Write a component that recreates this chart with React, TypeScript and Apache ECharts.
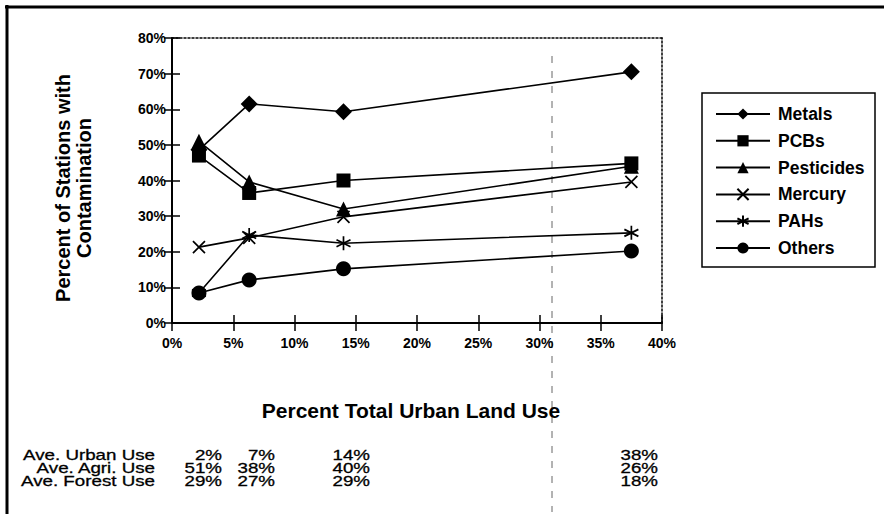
import React, { useEffect, useRef } from "react";
import * as echarts from "echarts";

const xUrban = [2.2, 6.3, 14.0, 37.5];
const metals = [48.6, 61.5, 59.3, 70.5];
const pcbs = [47.0, 36.5, 40.0, 44.8];
const pesticides = [51.0, 39.6, 32.0, 44.0];
const mercury = [21.3, 23.9, 29.8, 39.6];
const pahs = [8.4, 24.7, 22.4, 25.3];
const others = [8.4, 12.1, 15.2, 20.2];

const seriesNames = ["Metals", "PCBs", "Pesticides", "Mercury", "PAHs", "Others"];

const tableRowLabels = ["Ave. Urban Use", "Ave. Agri. Use", "Ave. Forest Use"];
const tableUrban = ["2%", "7%", "14%", "38%"];
const tableAgri = ["51%", "38%", "40%", "26%"];
const tableForest = ["29%", "27%", "29%", "18%"];

const FONT = "'Liberation Sans', Arial, Helvetica, sans-serif";

const X_PATH = "path://M0,0L10,10M10,0L0,10";
const STAR_PATH = "path://M5,0L5,10M0.7,2.5L9.3,7.5M0.7,7.5L9.3,2.5";

function pairs(vals: number[]) {
  return vals.map((v, i) => [xUrban[i], v]);
}

export default function App() {
  const ref = useRef<HTMLDivElement>(null);

  useEffect(() => {
    if (!ref.current) return;
    const chart = echarts.init(ref.current, undefined, { renderer: "svg" });

    const symbols = ["diamond", "rect", "triangle", X_PATH, STAR_PATH, "circle"];
    const sizes = [17, 14, 15, 12, 14, 15];
    const datas = [metals, pcbs, pesticides, mercury, pahs, others];

    const series = seriesNames.map((name, i) => {
      const stroked = i === 3 || i === 4;
      return {
        name,
        type: "line",
        xAxisIndex: 0,
        yAxisIndex: 0,
        data: pairs(datas[i]),
        symbol: symbols[i],
        symbolSize: sizes[i],
        showAllSymbol: true,
        lineStyle: { color: "#000", width: 1.6 },
        itemStyle: stroked
          ? { color: "#000", borderColor: "#000", borderWidth: 1.7 }
          : { color: "#000", borderWidth: 0 },
        z: 10 - i,
      };
    });

    const colRight = [222, 275, 370, 658];
    const rowY = [455, 468, 481];
    const tableRows = [tableUrban, tableAgri, tableForest];
    const tableGraphics: any[] = [];
    const tStyle = (text: string) => ({
      text,
      align: "right",
      verticalAlign: "middle",
      font: `15px ${FONT}`,
      lineHeight: 12,
      fill: "#000",
      stroke: "#000",
      lineWidth: 0.3,
    });
    tableRowLabels.forEach((lab, r) => {
      tableGraphics.push({
        type: "text",
        x: 155,
        y: rowY[r],
        scaleX: 1.25,
        style: tStyle(lab),
      });
      tableRows[r].forEach((val, c) => {
        tableGraphics.push({
          type: "text",
          x: colRight[c],
          y: rowY[r],
          scaleX: 1.25,
          style: tStyle(val),
        });
      });
    });

    const xBase = { min: 0, max: 40, interval: 5, type: "value" as const };
    const yBase = { min: 0, max: 80, interval: 10, type: "value" as const };

    chart.setOption({
      animation: false,
      backgroundColor: "#fff",
      grid: { left: 172, top: 38, right: 222, bottom: 191, show: false },
      xAxis: [
        {
          ...xBase,
          position: "bottom",
          axisLine: { show: true, onZero: false, lineStyle: { color: "#000", width: 2 } },
          axisTick: { show: true, length: 8, lineStyle: { color: "#000", width: 1.5 } },
          axisLabel: {
            formatter: "{value}%",
            margin: 13,
            color: "#000",
            fontFamily: FONT,
            fontWeight: "bold",
            fontSize: 14,
          },
          splitLine: { show: false },
        },
        {
          ...xBase,
          position: "bottom",
          axisLine: { show: false },
          axisTick: { show: true, inside: true, length: 8, lineStyle: { color: "#000", width: 1.5 } },
          axisLabel: { show: false },
          splitLine: { show: false },
        },
        {
          ...xBase,
          position: "top",
          axisLine: { show: true, onZero: false, lineStyle: { color: "#000", width: 1.5, type: [2, 2] } },
          axisTick: { show: false },
          axisLabel: { show: false },
          splitLine: { show: false },
        },
      ],
      yAxis: [
        {
          ...yBase,
          position: "left",
          axisLine: { show: true, onZero: false, lineStyle: { color: "#000", width: 2 } },
          axisTick: { show: true, length: 8, lineStyle: { color: "#000", width: 1.5 } },
          axisLabel: {
            formatter: "{value}%",
            margin: 6,
            color: "#000",
            fontFamily: FONT,
            fontWeight: "bold",
            fontSize: 14,
          },
          splitLine: { show: false },
        },
        {
          ...yBase,
          position: "left",
          axisLine: { show: false },
          axisTick: { show: true, inside: true, length: 8, lineStyle: { color: "#000", width: 1.5 } },
          axisLabel: { show: false },
          splitLine: { show: false },
        },
        {
          ...yBase,
          position: "right",
          axisLine: { show: true, onZero: false, lineStyle: { color: "#000", width: 1.5, type: [2, 2] } },
          axisTick: { show: false },
          axisLabel: { show: false },
          splitLine: { show: false },
        },
      ],
      legend: {
        orient: "vertical",
        left: 710,
        top: 100,
        itemWidth: 54,
        itemHeight: 14,
        itemGap: 8.8,
        data: seriesNames,
        textStyle: {
          color: "#000",
          fontFamily: FONT,
          fontWeight: "bold",
          fontSize: 17.5,
          lineHeight: 16,
          padding: [0, 0, 0, 3],
        },
      },
      series,
      graphic: [
        {
          type: "line",
          shape: { x1: 7, y1: 5, x2: 7, y2: 514 },
          style: { stroke: "#000", lineWidth: 3 },
        },
        {
          type: "line",
          shape: { x1: 5, y1: 7, x2: 884, y2: 7 },
          style: { stroke: "#000", lineWidth: 3 },
        },
        {
          type: "line",
          shape: { x1: 552, y1: 56, x2: 552, y2: 512 },
          style: { stroke: "#666", lineWidth: 1, lineDash: [7, 8] },
          z: -1,
        },
        {
          type: "rect",
          shape: { x: 702, y: 93, width: 173, height: 174 },
          style: { fill: "none", stroke: "#000", lineWidth: 1.5 },
        },
        {
          type: "text",
          x: 73,
          y: 188,
          rotation: Math.PI / 2,
          style: {
            text: "Percent of Stations with\nContamination",
            align: "center",
            verticalAlign: "middle",
            font: `bold 20px ${FONT}`,
            lineHeight: 21,
            fill: "#000",
          },
        },
        {
          type: "text",
          x: 411,
          y: 410,
          style: {
            text: "Percent Total Urban Land Use",
            align: "center",
            verticalAlign: "middle",
            font: `bold 21px ${FONT}`,
            fill: "#000",
          },
        },
        ...tableGraphics,
      ],
    });

    return () => chart.dispose();
  }, []);

  return (
    <div
      ref={ref}
      style={{ position: "fixed", left: 0, top: 0, width: 884, height: 514, background: "#fff" }}
    />
  );
}
